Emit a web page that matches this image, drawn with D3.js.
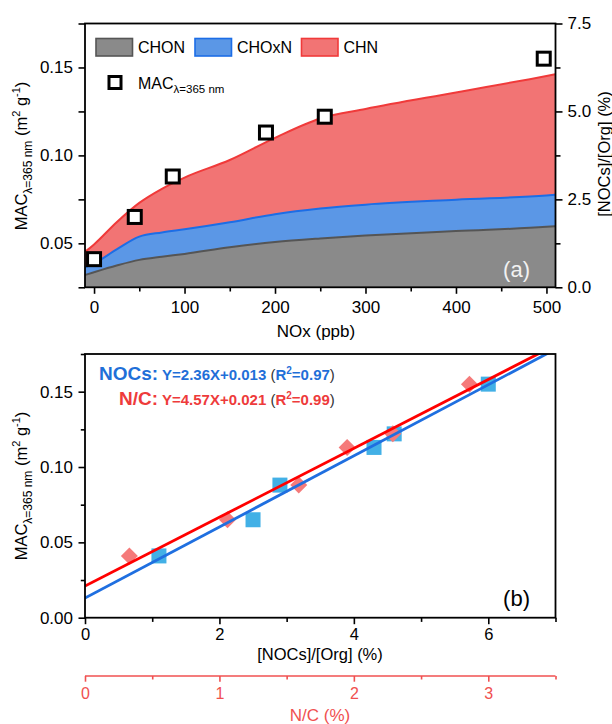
<!DOCTYPE html>
<html>
<head>
<meta charset="utf-8">
<script src="https://cdn.jsdelivr.net/npm/d3@7"></script>
<style>
  html, body { margin: 0; padding: 0; background: #fff; }
  svg { display: block; font-family: "Liberation Sans", Arial, sans-serif; }
</style>
</head>
<body>
<script>
// ---- Panel (a): NOC fractions (%) vs NOx, sampled along the smoothed curves ----
const noxGrid  = [-10, 0, 25, 50, 75, 100, 150, 200, 250, 300, 400, 500, 510];
const fracCHON  = [0.35, 0.43, 0.62, 0.78, 0.87, 0.95, 1.14, 1.29, 1.39, 1.47, 1.60, 1.72, 1.74];
const fracCHOxN = [0.22, 0.25, 0.46, 0.66, 0.69, 0.70, 0.71, 0.79, 0.85, 0.88, 0.89, 0.89, 0.89];
const fracCHN   = [0.44, 0.54, 0.77, 0.96, 1.24, 1.47, 1.77, 2.17, 2.56, 2.72, 3.05, 3.40, 3.43];
const groupNames = ["CHON", "CHOxN", "CHN"];

// MAC at 365 nm for each NOx level
const noxLevels = [0, 45, 87, 190, 255, 497];
const macValues = [0.041, 0.065, 0.088, 0.113, 0.122, 0.155];

// ---- Panel (b): MAC vs [NOCs]/[Org] and vs N/C ----
const nocsOrg = [1.1, 2.5, 2.9, 4.3, 4.6, 6.0];   // %
const ncRatio = [0.33, 1.06, 1.59, 1.95, 2.29, 2.86]; // %
const fitNOCs = { slope: 2.36, intercept: 0.013, r2: "0.97" };
const fitNC   = { slope: 4.57, intercept: 0.021, r2: "0.99" };

// tick values
const ticksNOx = [0, 100, 200, 300, 400, 500], minorNOx = [50, 150, 250, 350, 450];
const ticksMacA = [0.05, 0.10, 0.15], minorMacA = [0.025, 0.075, 0.125, 0.175];
const ticksFrac = [0, 2.5, 5.0, 7.5], minorFrac = [1.25, 3.75, 6.25];
const ticksMacB = [0, 0.05, 0.10, 0.15], minorMacB = [0.025, 0.075, 0.125, 0.175];
const ticksNOCs = [0, 2, 4, 6], minorNOCs = [1, 3, 5, 7];
const ticksNC = [0, 1, 2, 3], minorNC = [0.5, 1.5, 2.5, 3.5];

const colors = {
  CHON:  { fill: "#8a8a8a", line: "#555555" },
  CHOxN: { fill: "#5b97e6", line: "#1c6de6" },
  CHN:   { fill: "#f27474", line: "#f03a3a" }
};
const blueText = "#1f6fd8", redText = "#ee3b3b", ncRed = "#f05050";

const W = 612, H = 724;
const svg = d3.select("body").append("svg").attr("width", W).attr("height", H);

const L = 85, R = 555.5;
const A = { top: 23.5, bottom: 287.3 };
const B = { top: 354, bottom: 617.7 };

const xA = d3.scaleLinear().domain([-10, 510]).range([L, R]);
const yFrac = d3.scaleLinear().domain([0, 7.5]).range([A.bottom, A.top]);
const yMacA = d3.scaleLinear().domain([0.025, 0.175]).range([A.bottom, A.top]);

const xB = d3.scaleLinear().domain([0, 7]).range([L, R]);
const xNC = d3.scaleLinear().domain([0, 3.5]).range([L, R]);
const yMacB = d3.scaleLinear().domain([0, 0.175]).range([B.bottom, B.top]);

const TICK_FS = 17;

function drawAxis(g, axisFn, scale, majors, minors, fmt, opts = {}) {
  const color = opts.color || "#000";
  const major = axisFn(scale).tickValues(majors).tickFormat(fmt)
    .tickSize(opts.size || 6.5).tickPadding(opts.pad || 5.5);
  const gm = g.append("g").call(major);
  gm.select(".domain").remove();
  gm.selectAll(".tick line").attr("stroke", color).attr("stroke-width", 1.6);
  gm.selectAll(".tick text").attr("fill", color).style("font-size", (opts.fs || TICK_FS) + "px")
    .style("font-family", "'Liberation Sans', Arial, sans-serif");
  const minor = axisFn(scale).tickValues(minors).tickFormat("").tickSize(opts.minorSize || 4.2);
  const gn = g.append("g").call(minor);
  gn.select(".domain").remove();
  gn.selectAll(".tick line").attr("stroke", color).attr("stroke-width", 1.6);
  return g;
}

// ================= Panel (a) =================
const gA = svg.append("g");
svg.append("defs").append("clipPath").attr("id", "clipA")
  .append("rect").attr("x", L).attr("y", A.top).attr("width", R - L).attr("height", A.bottom - A.top);

const rows = noxGrid.map((n, i) => ({ nox: n, CHON: fracCHON[i], CHOxN: fracCHOxN[i], CHN: fracCHN[i] }));
const stacked = d3.stack().keys(groupNames)(rows);

const area = d3.area().curve(d3.curveMonotoneX)
  .x(d => xA(d.data.nox)).y0(d => yFrac(d[0])).y1(d => yFrac(d[1]));
const topLine = d3.line().curve(d3.curveMonotoneX)
  .x(d => xA(d.data.nox)).y(d => yFrac(d[1]));

const layers = gA.append("g").attr("clip-path", "url(#clipA)");
stacked.forEach(s => {
  layers.append("path").attr("d", area(s)).attr("fill", colors[s.key].fill);
});
stacked.forEach(s => {
  layers.append("path").attr("d", topLine(s)).attr("fill", "none")
    .attr("stroke", colors[s.key].line).attr("stroke-width", 2);
});

// MAC squares
gA.append("g").selectAll("rect").data(noxLevels.map((n, i) => [n, macValues[i]]))
  .join("rect")
  .attr("x", d => xA(d[0]) - 6.5).attr("y", d => yMacA(d[1]) - 6.5)
  .attr("width", 13).attr("height", 13)
  .attr("fill", "#fff").attr("stroke", "#000").attr("stroke-width", 3);

// frame
gA.append("rect").attr("x", L).attr("y", A.top).attr("width", R - L).attr("height", A.bottom - A.top)
  .attr("fill", "none").attr("stroke", "#000").attr("stroke-width", 1.8);

drawAxis(gA.append("g").attr("transform", `translate(0,${A.bottom})`), d3.axisBottom, xA,
  ticksNOx, minorNOx, d3.format("d"), { pad: 7.5 });
drawAxis(gA.append("g").attr("transform", `translate(${L},0)`), d3.axisLeft, yMacA,
  ticksMacA, minorMacA, d3.format(".2f"), { minorSize: 6.5 });
drawAxis(gA.append("g").attr("transform", `translate(${R},0)`), d3.axisRight, yFrac,
  ticksFrac, minorFrac, d3.format(".1f"), { size: 7, minorSize: 5, pad: 5 });

// axis titles
gA.append("text").attr("x", 316).attr("y", 337).attr("text-anchor", "middle")
  .style("font-size", "17px").text("NOx (ppb)");

function macTitle(g, x, y) {
  const t = g.append("text").attr("transform", `translate(${x},${y}) rotate(-90)`)
    .attr("text-anchor", "middle").style("font-size", "16.5px");
  t.append("tspan").text("MAC");
  t.append("tspan").attr("dy", 5).style("font-size", "12px").text("λ=365 nm");
  t.append("tspan").attr("dy", -5).text(" (m");
  t.append("tspan").attr("dy", -7).style("font-size", "11px").text("2");
  t.append("tspan").attr("dy", 7).text(" g");
  t.append("tspan").attr("dy", -7).style("font-size", "11px").text("-1");
  t.append("tspan").attr("dy", 7).text(")");
}
macTitle(gA, 27, 156);

gA.append("text").attr("transform", `translate(610,154) rotate(-90)`)
  .attr("text-anchor", "middle").style("font-size", "16.5px").text("[NOCs]/[Org] (%)");

gA.append("text").attr("x", 530).attr("y", 277).attr("text-anchor", "end")
  .attr("fill", "#f2f2f2").style("font-size", "22px").text("(a)");

// legend
const legX = [96, 195, 301.5];
groupNames.forEach((k, i) => {
  gA.append("rect").attr("x", legX[i]).attr("y", 38.5).attr("width", 36.5).attr("height", 17.5)
    .attr("fill", colors[k].fill).attr("stroke", colors[k].line).attr("stroke-width", 1.6);
  gA.append("text").attr("x", legX[i] + 42).attr("y", 53.3).style("font-size", "16px").text(k);
});
gA.append("rect").attr("x", 109).attr("y", 76.5).attr("width", 12).attr("height", 12)
  .attr("fill", "#fff").attr("stroke", "#000").attr("stroke-width", 3);
const lt = gA.append("text").attr("x", 138).attr("y", 89).style("font-size", "16px");
lt.append("tspan").text("MAC");
lt.append("tspan").attr("dy", 4).style("font-size", "11.5px").text("λ=365 nm");

// ================= Panel (b) =================
const gB = svg.append("g");
svg.select("defs").append("clipPath").attr("id", "clipB")
  .append("rect").attr("x", L).attr("y", B.top).attr("width", R - L).attr("height", B.bottom - B.top);

// points
gB.append("g").selectAll("rect").data(nocsOrg.map((x, i) => [x, macValues[i]]))
  .join("rect")
  .attr("x", d => xB(d[0]) - 7.5).attr("y", d => yMacB(d[1]) - 7.5)
  .attr("width", 15).attr("height", 15).attr("fill", "#42b0e6");

gB.append("g").selectAll("path").data(ncRatio.map((x, i) => [x, macValues[i]]))
  .join("path")
  .attr("transform", d => `translate(${xNC(d[0])},${yMacB(d[1])})`)
  .attr("d", "M0,-8.5L8.5,0L0,8.5L-8.5,0Z").attr("fill", "#f57a7a");

// fit lines
const fitLayer = gB.append("g").attr("clip-path", "url(#clipB)");
const nocsLine = [0, 7].map(x => [xB(x), yMacB(fitNOCs.slope * x / 100 + fitNOCs.intercept)]);
const ncLine = [0, 3.5].map(x => [xNC(x), yMacB(fitNC.slope * x / 100 + fitNC.intercept)]);
fitLayer.append("path").attr("d", d3.line()(nocsLine)).attr("stroke", "#1f6fe0")
  .attr("stroke-width", 2.8).attr("fill", "none");
fitLayer.append("path").attr("d", d3.line()(ncLine)).attr("stroke", "#ff0000")
  .attr("stroke-width", 2.8).attr("fill", "none");

gB.append("rect").attr("x", L).attr("y", B.top).attr("width", R - L).attr("height", B.bottom - B.top)
  .attr("fill", "none").attr("stroke", "#000").attr("stroke-width", 1.8);

drawAxis(gB.append("g").attr("transform", `translate(0,${B.bottom})`), d3.axisBottom, xB,
  ticksNOCs, minorNOCs, d3.format("d"), { pad: 4.5, fs: 16.5 });
drawAxis(gB.append("g").attr("transform", `translate(${L},0)`), d3.axisLeft, yMacB,
  ticksMacB, minorMacB, d3.format(".2f"));

gB.append("text").attr("x", 320).attr("y", 660).attr("text-anchor", "middle")
  .style("font-size", "16.5px").text("[NOCs]/[Org] (%)");
macTitle(gB, 27, 486);

gB.append("text").attr("x", 530).attr("y", 606).attr("text-anchor", "end")
  .attr("fill", "#000").style("font-size", "22px").text("(b)");

// N/C axis below panel (b)
const gNC = gB.append("g").attr("transform", "translate(0,676)");
gNC.append("line").attr("x1", L).attr("x2", R).attr("stroke", ncRed).attr("stroke-width", 1.6);
drawAxis(gNC, d3.axisBottom, xNC, ticksNC, minorNC, d3.format("d"),
  { color: ncRed, size: 5.7, minorSize: 3.5, pad: 6, fs: 16 });
gB.append("text").attr("x", 320).attr("y", 721).attr("text-anchor", "middle")
  .attr("fill", ncRed).style("font-size", "17px").text("N/C (%)");

// regression annotations
function fitLabel(g, x, y, name, fit, color) {
  const t = g.append("text").attr("x", x).attr("y", y).attr("font-weight", "bold");
  t.append("tspan").attr("fill", color).style("font-size", "19px").text(name + ":");
  t.append("tspan").attr("fill", color).style("font-size", "15px")
    .text(` Y=${fit.slope.toFixed(2)}X+${fit.intercept.toFixed(3)} `);
  t.append("tspan").attr("fill", "#333").attr("font-weight", "normal").style("font-size", "15px").text("(");
  t.append("tspan").attr("fill", color).style("font-size", "15px").text("R");
  t.append("tspan").attr("fill", color).attr("dy", -6).style("font-size", "10px").text("2");
  t.append("tspan").attr("fill", color).attr("dy", 6).style("font-size", "15px").text("=" + fit.r2);
  t.append("tspan").attr("fill", "#333").attr("font-weight", "normal").style("font-size", "15px").text(")");
}
fitLabel(gB, 99, 379.5, "NOCs", fitNOCs, blueText);
fitLabel(gB, 119, 404.5, "N/C", fitNC, redText);
</script>
</body>
</html>
